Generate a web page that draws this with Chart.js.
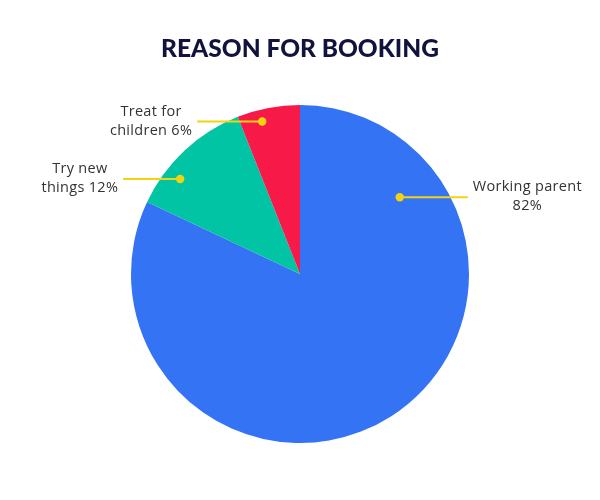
<!DOCTYPE html>
<html>
<head>
<meta charset="utf-8">
<script src="https://cdn.jsdelivr.net/npm/chart.js@4/dist/chart.umd.min.js"></script>
<style>
html,body{margin:0;padding:0;background:#fff;}
#wrap{width:600px;height:500px;}
</style>
</head>
<body>
<div id="wrap"><canvas id="c" width="600" height="500"></canvas></div>
<script>
const categories = ["Working parent", "Try new things", "Treat for children"];
const values = [82, 12, 6];
const labelLines = [["Working parent", "82%"], ["Try new", "things 12%"], ["Treat for", "children 6%"]];
const colors = ["#3373F4", "#00C4A3", "#F71A48"];

// dot placement within each slice: fraction along the slice's angle, fraction of radius
const dotAngleFrac = [0.1775, 0.306, 0.356];
const dotRadiusFrac = [0.745, 0.905, 0.93];
const lineLen = [68, 57, 65];

const calloutPlugin = {
  id: 'callouts',
  afterDatasetsDraw(chart) {
    const ctx = chart.ctx;
    const meta = chart.getDatasetMeta(0);
    meta.data.forEach((arc, i) => {
      const p = arc.getProps(['x','y','startAngle','endAngle','outerRadius'], true);
      const a = p.startAngle + (p.endAngle - p.startAngle) * dotAngleFrac[i];
      const r = p.outerRadius * dotRadiusFrac[i];
      const dx = p.x + Math.cos(a) * r;
      const dy = p.y + Math.sin(a) * r;
      const right = Math.cos(a) > 0;
      const ex = dx + (right ? lineLen[i] : -lineLen[i]);
      ctx.save();
      ctx.strokeStyle = '#F2D30F';
      ctx.lineWidth = 2;
      ctx.beginPath();
      ctx.moveTo(dx, dy);
      ctx.lineTo(ex, dy);
      ctx.stroke();
      ctx.fillStyle = '#F2D30F';
      ctx.beginPath();
      ctx.arc(dx, dy, 4.2, 0, Math.PI * 2);
      ctx.fill();
      ctx.font = '14.5px "Open Sans", sans-serif';
      try { ctx.letterSpacing = '0.3px'; } catch (e) {}
      ctx.fillStyle = '#333333';
      ctx.textAlign = 'center';
      ctx.textBaseline = 'middle';
      const lines = labelLines[i];
      let maxW = 0;
      lines.forEach(t => { maxW = Math.max(maxW, ctx.measureText(t).width); });
      const cx = right ? ex + 5 + maxW / 2 : ex - 5 - maxW / 2;
      const lh = 19;
      const y0 = dy - lh / 2 * (lines.length - 1) - 0.5;
      lines.forEach((t, k) => ctx.fillText(t, cx, y0 + k * lh));
      ctx.restore();
    });
  }
};

new Chart(document.getElementById('c'), {
  type: 'pie',
  data: {
    labels: categories,
    datasets: [{
      data: values,
      backgroundColor: colors,
      borderWidth: 0
    }]
  },
  options: {
    responsive: false,
    animation: false,
    layout: { padding: { top: 0, bottom: 57, left: 0, right: 0 } },
    plugins: {
      legend: { display: false },
      tooltip: { enabled: false },
      title: {
        display: true,
        text: 'REASON FOR BOOKING',
        color: '#12123f',
        font: { family: 'Lato, "DejaVu Sans", sans-serif', size: 24.5, weight: '900', lineHeight: 1.2 },
        padding: { top: 34, bottom: 41.6 }
      }
    }
  },
  plugins: [calloutPlugin]
});
</script>
</body>
</html>
